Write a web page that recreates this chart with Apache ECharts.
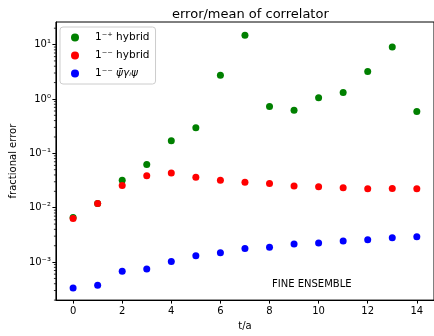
<!DOCTYPE html>
<html><head><meta charset="utf-8">
<script src="https://cdn.jsdelivr.net/npm/echarts@6/dist/echarts.min.js"></script>
<style>html,body{margin:0;padding:0;background:#fff}#c{width:434px;height:336px}</style>
</head><body><div id="c"></div>
<script>
const tValues = [0,1,2,3,4,5,6,7,8,9,10,11,12,13,14];
const hybridMinusPlus = [0.0066,0.0119,0.032,0.062,0.170,0.296,2.74,14.8,0.73,0.62,1.05,1.32,3.2,9.0,0.59];
const hybridMinusMinus = [0.00634,0.0119,0.0257,0.0389,0.0433,0.0365,0.032,0.0293,0.0279,0.0252,0.0242,0.0232,0.0223,0.0225,0.0223];
const psiGammaPsi = [3.33e-4,3.77e-4,6.8e-4,7.5e-4,1.02e-3,1.31e-3,1.48e-3,1.77e-3,1.87e-3,2.15e-3,2.25e-3,2.44e-3,2.58e-3,2.8e-3,2.92e-3];
const xTicks = [0,2,4,6,8,10,12,14];
const yTicks = [1e-3,1e-2,1e-1,1,10];
const yTickLabels = {'0.001':'10⁻³','0.01':'10⁻²','0.1':'10⁻¹','1':'10⁰','10':'10¹'};
const yMinorTicks = [];
[-4,-3,-2,-1,0,1].forEach(function(e){for(let k=2;k<=9;k++){const v=+(k*Math.pow(10,e)).toPrecision(3); if(v>=2.0e-4 && v<=26) yMinorTicks.push(v);}});

const X_MIN = -0.7, X_MAX = 14.7, Y_MIN = 2.0e-4, Y_MAX = 26;
const FONT = 'DejaVu Sans';
const chart = echarts.init(document.getElementById('c'), null, {renderer:'canvas'});
function pairs(arr){return tValues.map(function(t,i){return [t, arr[i]];});}
const axisLine = {show:true, onZero:false, lineStyle:{color:'#000', width:1}};
chart.setOption({
  animation:false,
  textStyle:{fontFamily:FONT},
  title:{text:'error/mean of correlator', left:167, top:3,
    textStyle:{fontFamily:FONT, fontSize:13, fontWeight:'normal', color:'#000'}},
  grid:{left:55, top:22, width:382.5, height:284, show:true, borderColor:'#000', borderWidth:1},
  legend:{orient:'vertical', left:60, top:27, padding:[5,6,5,11], itemGap:7,
    itemWidth:8, itemHeight:8, icon:'circle', borderColor:'#ccc', borderWidth:1, borderRadius:3,
    backgroundColor:'rgba(255,255,255,0.8)',
    textStyle:{fontFamily:FONT, fontSize:10.5, color:'#000', padding:[0,0,0,11],
      rich:{it:{fontFamily:FONT, fontSize:10.5, fontStyle:'italic', color:'#000'}}},
    formatter:function(n){ if(n==='psi') return '1⁻⁻ {it|ψ̄γᵢψ}'; return n; },
    data:['1⁻⁺ hybrid','1⁻⁻ hybrid','psi']},
  xAxis:{type:'value', min:X_MIN, max:X_MAX, splitLine:{show:false}, axisLine:axisLine,
    name:'t/a', nameLocation:'middle', nameGap:18, nameTextStyle:{fontFamily:FONT, fontSize:10, color:'#000'},
    axisTick:{show:true, length:3.5, lineStyle:{color:'#000'}, customValues:xTicks},
    axisLabel:{fontFamily:FONT, fontSize:10, color:'#000', margin:6, customValues:xTicks}},
  yAxis:{type:'log', logBase:10, min:Y_MIN, max:Y_MAX, splitLine:{show:false}, axisLine:axisLine,
    name:'fractional error', nameLocation:'middle', nameGap:36, nameRotate:90,
    nameTextStyle:{fontFamily:FONT, fontSize:10, color:'#000'},
    axisTick:{show:true, length:3.5, lineStyle:{color:'#000'}, customValues:yTicks},
    axisLabel:{fontFamily:FONT, fontSize:10, color:'#000', margin:5, customValues:yTicks,
      formatter:function(v){return yTickLabels[String(+v.toPrecision(3))]||'';}}},
  graphic:[{type:'text', left:272, top:279, style:{text:'FINE ENSEMBLE', font:'10px "DejaVu Sans"', fill:'#000'}}],
  series:[
    {name:'minorTicks', type:'custom', silent:true, clip:false, z:1,
      data:yMinorTicks.map(function(v){return [X_MIN, v];}),
      renderItem:function(params, api){
        const p = api.coord([api.value(0), api.value(1)]);
        return {type:'line', shape:{x1:p[0]-2, y1:p[1], x2:p[0], y2:p[1]}, style:{stroke:'#000', lineWidth:0.8}};
      }},
    {name:'1⁻⁺ hybrid', type:'scatter', symbolSize:7, itemStyle:{color:'#008000', opacity:1}, data:pairs(hybridMinusPlus), z:2},
    {name:'1⁻⁻ hybrid', type:'scatter', symbolSize:7, itemStyle:{color:'#ff0000', opacity:1}, data:pairs(hybridMinusMinus), z:3},
    {name:'psi', type:'scatter', symbolSize:7, itemStyle:{color:'#0000ff', opacity:1}, data:pairs(psiGammaPsi), z:4}
  ]
});
</script></body></html>
